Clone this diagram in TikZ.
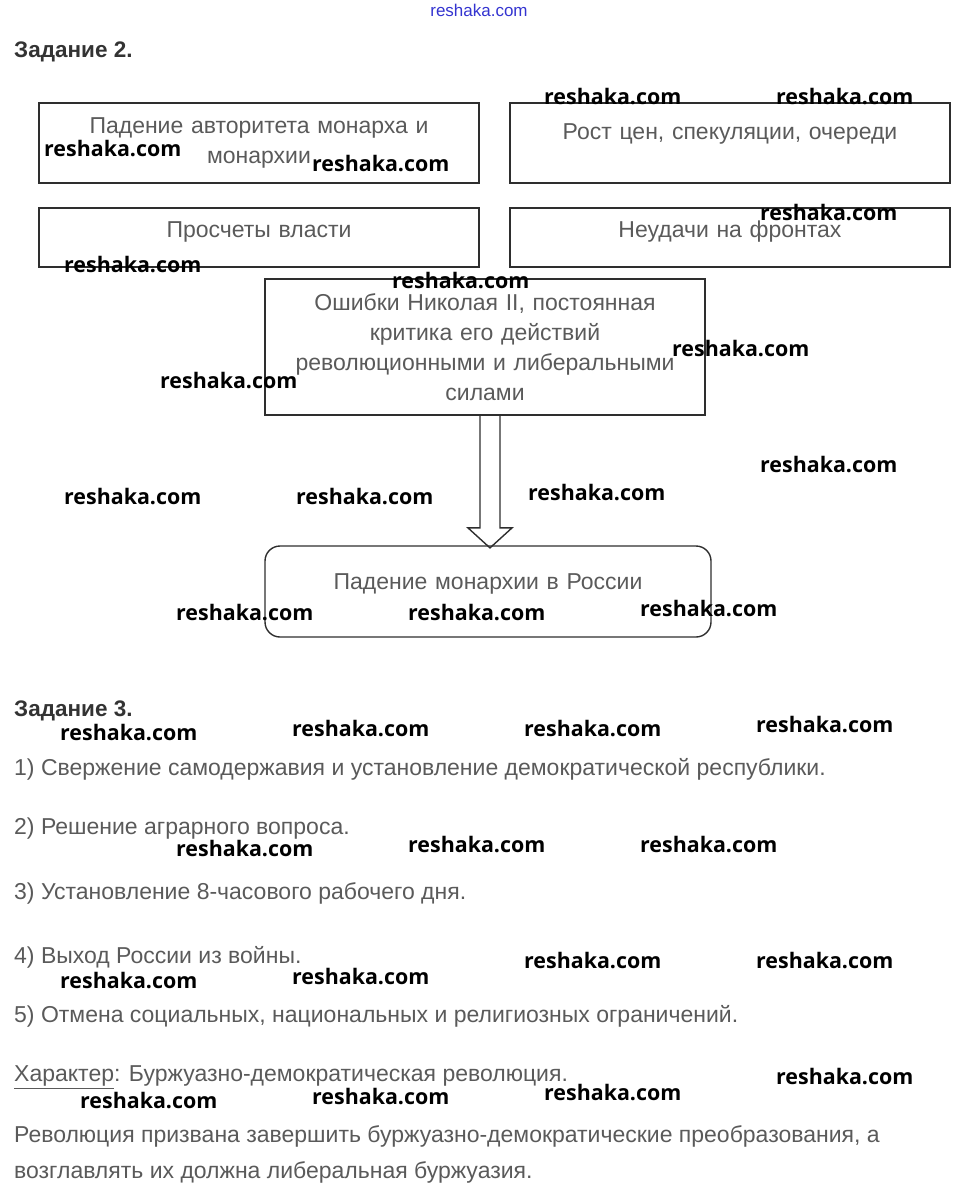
\documentclass[tikz,border=0pt]{standalone}
\usepackage{fontspec}
\setmainfont{Liberation Sans}
\newfontfamily\markfont{Open Sans}
\usepackage{tikz}
\definecolor{txtgray}{HTML}{5A5A5A}
\definecolor{headgray}{HTML}{333333}
\definecolor{framegray}{HTML}{2E2E2E}
\definecolor{linkblue}{HTML}{3434D0}
\tikzset{
  box/.style={draw=framegray,line width=1.8pt,minimum width=440pt,text width=430pt,
    align=center,inner sep=0pt,text=txtgray,font=\fontsize{23}{30}\selectfont},
  heading/.style={anchor=mid west,inner sep=0pt,text=headgray,font=\bfseries\fontsize{22.5}{24}\selectfont},
  item/.style={anchor=mid west,inner sep=0pt,text=txtgray,font=\fontsize{23}{26}\selectfont},
  wmark/.style={anchor=mid west,inner sep=0pt,text=black,font=\markfont\bfseries\fontsize{21.4}{24}\selectfont}
}
\begin{document}
\begin{tikzpicture}[x=1pt,y=-1pt]
  \useasboundingbox (0,0) rectangle (957,1202);
  \node[anchor=mid,inner sep=0pt,text=linkblue,font=\fontsize{17}{18}\selectfont] (site) at (479,14) {reshaka.com};
  \node[heading] (task2) at (14,55) {Задание 2.};

  \node[box,minimum height=80pt] (fall) at (259,143) {Падение авторитета монарха и\\монархии};
  \node[box,minimum height=80pt,text depth=22pt] (prices) at (730,143) {Рост цен, спекуляции, очереди};
  \node[box,minimum height=59pt,text depth=16pt] (errors) at (259,237.5) {Просчеты власти};
  \node[box,minimum height=59pt,text depth=16pt] (front) at (730,237.5) {Неудачи на фронтах};
  \node[box,minimum height=136pt] (nicolas) at (485,347) {Ошибки Николая II, постоянная\\критика его действий\\революционными и либеральными\\силами};
  \node[box,rounded corners=15pt,line width=1.4pt,minimum width=446pt,minimum height=91pt,text depth=20pt] (monarchy) at (488,591.5) {Падение монархии в России};

  \draw[draw=framegray,line width=1.4pt,line join=miter] ([xshift=-5pt]nicolas.south) -- ++(0,112) -- ++(-12,0) -- ++(22,20)
    -- ++(22,-20) -- ++(-12,0) -- ([xshift=15pt]nicolas.south);

  \node[heading] (task3) at (14,714) {Задание 3.};
  \node[item] (goal1) at (14,773) {1) Свержение самодержавия и установление демократической республики.};
  \node[item] (goal2) at (14,832) {2) Решение аграрного вопроса.};
  \node[item] (goal3) at (14,897) {3) Установление 8-часового рабочего дня.};
  \node[item] (goal4) at (14,961) {4) Выход России из войны.};
  \node[item] (goal5) at (14,1020) {5) Отмена социальных, национальных и религиозных ограничений.};
  \node[item] (kind) at (14,1079) {\underline{Характер}: Буржуазно-демократическая революция.};
  \node[item] (sum1) at (14,1140) {Революция призвана завершить буржуазно-демократические преобразования, а};
  \node[item] (sum2) at (14,1176) {возглавлять их должна либеральная буржуазия.};

  \foreach \x/\y [count=\i] in {544/102,776/102,44/154,312/169,760/218,64/270,392/286,672/354,
      160/386,760/470,64/502,296/502,528/498,176/618,408/618,640/614,60/738,292/734,524/734,
      756/730,176/854,408/850,640/850,60/986,292/982,524/966,756/966,776/1082,80/1106,
      312/1102,544/1098}
    \node[wmark] (wm\i) at (\x,\y) {reshaka.com};
\end{tikzpicture}
\end{document}
